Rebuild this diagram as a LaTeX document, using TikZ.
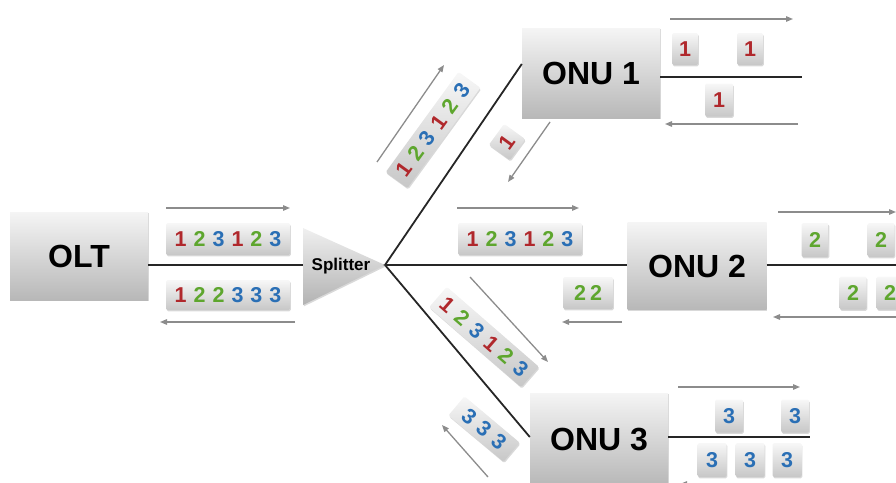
\documentclass[tikz,border=0pt]{standalone}
\usepackage{fontspec}
\setmainfont{Liberation Sans}
\usetikzlibrary{arrows.meta,shadows,calc}
\definecolor{cR}{HTML}{B0282C}
\definecolor{cG}{HTML}{5EA62E}
\definecolor{cB}{HTML}{2A6FB5}
\newcommand\oneR{\textcolor{cR}{1}}
\newcommand\twoG{\textcolor{cG}{2}}
\newcommand\threeB{\textcolor{cB}{3}}
\newcommand\pgap{\hskip 7pt}
\newcommand\rgap{\hskip 7.5pt}
\begin{document}
\begin{tikzpicture}[x=1pt,y=-1pt,
  softshadow/.style={drop shadow={shadow xshift=0.8pt,shadow yshift=-1.4pt,opacity=0.3}},
  unitbox/.style={top color=white!96!black, bottom color=black!28, softshadow,
    inner sep=0pt, font=\fontsize{32}{32}\selectfont\bfseries},
  pkt/.style={top color=white!97!black, bottom color=black!22, softshadow,
    inner sep=0pt, rounded corners=1.5pt, font=\fontsize{21.5}{21.5}\selectfont\bfseries},
  flow/.style={draw=black!45, line width=1.3pt, -{Triangle[length=7pt,width=5.5pt]}},
  fiber/.style={draw=black!85, line width=1.8pt}]
\useasboundingbox (0,0) rectangle (896,482);
\clip (0,0) rectangle (896,482);

% units
\node[unitbox, minimum width=138pt, minimum height=88pt] (olt) at (79,256) {OLT};
\node[unitbox, minimum width=138pt, minimum height=90pt] (onu1) at (591,73) {ONU 1};
\node[unitbox, minimum width=139pt, minimum height=87pt] (onu2) at (697,266) {ONU 2};
\node[unitbox, minimum width=138pt, minimum height=92pt] (onu3) at (599,439) {ONU 3};

% splitter and fibres
\coordinate (junc) at (385,265);
\coordinate (r1) at (802,77);
\coordinate (r2) at (900,265);
\coordinate (r3) at (810,437);
\draw[fiber] (olt.east |- junc) -- (junc);
\draw[fiber] (junc) -- ([yshift=9pt]onu1.west);
\draw[fiber] (junc) -- (onu2.west |- junc);
\draw[fiber] (junc) -- ([yshift=2pt]onu3.west);
\draw[fiber] (onu1.east |- r1) -- (r1);
\draw[fiber] (onu2.east |- r2) -- (r2);
\draw[fiber] (onu3.east |- r3) -- (r3);
\path[top color=black!6, bottom color=black!30, softshadow] (303,228) -- (junc) -- (303,305) -- cycle;
\node[font=\fontsize{17}{17}\selectfont\bfseries] (spl) at (341,266) {Splitter};

% OLT side
\node[pkt, minimum width=124pt, minimum height=32pt] (po1) at (228,239)
  {\oneR\pgap\twoG\pgap\threeB\pgap\oneR\pgap\twoG\pgap\threeB};
\node[pkt, minimum width=124pt, minimum height=30pt] (po2) at (228,295)
  {\oneR\pgap\twoG\pgap\twoG\pgap\threeB\pgap\threeB\pgap\threeB};
\draw[flow] (166,208) -- (290,208);
\draw[flow] (295,322) -- (160,322);

% ONU 1 branch
\node[pkt, rotate=54, minimum width=124pt, minimum height=27pt] (pb1) at (433,130)
  {\oneR\rgap\twoG\rgap\threeB\rgap\oneR\rgap\twoG\rgap\threeB};
\draw[flow] (377,162) -- (444,65);
\node[pkt, rotate=54, minimum width=26pt, minimum height=26pt] (pb1u) at (507,142) {\oneR};
\draw[flow] (550,122) -- (508,182);

% ONU 1 right
\node[pkt, minimum width=26pt, minimum height=32pt] (q11) at (685,49) {\oneR};
\node[pkt, minimum width=26pt, minimum height=32pt] (q12) at (750,49) {\oneR};
\node[pkt, minimum width=28pt, minimum height=33pt] (q13) at (719,100) {\oneR};
\draw[flow] (670,19) -- (793,19);
\draw[flow] (798,124) -- (665,124);

% ONU 2 branch
\node[pkt, minimum width=124pt, minimum height=32pt] (pb2) at (520,239)
  {\oneR\pgap\twoG\pgap\threeB\pgap\oneR\pgap\twoG\pgap\threeB};
\node[pkt, minimum width=50pt, minimum height=32pt] (pb2u) at (588,293) {\twoG\hskip4pt\twoG};
\draw[flow] (457,208) -- (579,208);
\draw[flow] (622,322) -- (562,322);

% ONU 2 right
\node[pkt, minimum width=27pt, minimum height=34pt] (q21) at (815,240) {\twoG};
\node[pkt, minimum width=27pt, minimum height=34pt] (q22) at (881,240) {\twoG};
\node[pkt, minimum width=27pt, minimum height=33pt] (q23) at (853,293) {\twoG};
\node[pkt, minimum width=27pt, minimum height=33pt] (q24) at (890,293) {\twoG};
\draw[flow] (778,212) -- (896,212);
\draw[flow] (900,317) -- (773,317);

% ONU 3 branch
\node[pkt, rotate=-41, minimum width=122pt, minimum height=27pt] (pb3) at (484,337)
  {\oneR\rgap\twoG\rgap\threeB\rgap\oneR\rgap\twoG\rgap\threeB};
\draw[flow] (470,277) -- (548,362);
\node[pkt, rotate=-40, minimum width=72pt, minimum height=25pt] (pb3u) at (484,429)
  {\threeB\rgap\threeB\rgap\threeB};
\draw[flow] (488,477) -- (442,425);

% ONU 3 right
\node[pkt, minimum width=28pt, minimum height=33pt] (q31) at (729,416) {\threeB};
\node[pkt, minimum width=28pt, minimum height=33pt] (q32) at (795,416) {\threeB};
\node[pkt, minimum width=29pt, minimum height=34pt] (q33) at (712,460) {\threeB};
\node[pkt, minimum width=29pt, minimum height=34pt] (q34) at (750,460) {\threeB};
\node[pkt, minimum width=29pt, minimum height=34pt] (q35) at (787,460) {\threeB};
\draw[flow] (678,387) -- (800,387);
\draw[flow] (800,484) -- (680,484);
\end{tikzpicture}
\end{document}
